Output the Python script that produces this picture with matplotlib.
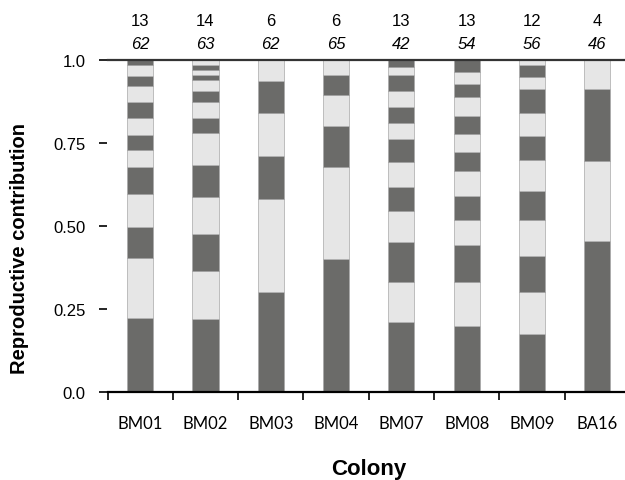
import matplotlib.pyplot as plt
import numpy as np

# colonies and the share of each patriline (bottom to top)
colonies = ['BM01', 'BM02', 'BM03', 'BM04', 'BM07', 'BM08', 'BM09', 'BA16']
shares = [
    [0.224, 0.179, 0.095, 0.097, 0.082, 0.050, 0.047, 0.050, 0.049, 0.048, 0.030, 0.034, 0.015],
    [0.221, 0.143, 0.112, 0.110, 0.096, 0.097, 0.046, 0.049, 0.031, 0.033, 0.017, 0.014, 0.014, 0.017],
    [0.303, 0.277, 0.129, 0.130, 0.097, 0.064],
    [0.400, 0.278, 0.122, 0.095, 0.060, 0.045],
    [0.213, 0.118, 0.120, 0.095, 0.072, 0.073, 0.069, 0.049, 0.049, 0.048, 0.048, 0.024, 0.022],
    [0.200, 0.131, 0.112, 0.075, 0.072, 0.075, 0.056, 0.056, 0.055, 0.057, 0.037, 0.038, 0.036],
    [0.175, 0.128, 0.106, 0.109, 0.088, 0.091, 0.072, 0.070, 0.072, 0.037, 0.035, 0.017],
    [0.455, 0.240, 0.218, 0.087],
]
n_patrilines = [13, 14, 6, 6, 13, 13, 12, 4]
n_workers = [62, 63, 62, 65, 42, 54, 56, 46]

yticks = [0.0, 0.25, 0.5, 0.75, 1.0]
ytick_labels = ['0.0', '0.25', '0.50', '0.75', '1.0']

dark = '#6b6b69'
light = '#e6e6e6'

fig = plt.figure(figsize=(6.25, 4.81), dpi=100)
ax = fig.add_axes([0.172, 0.182, 0.836, 0.692])

x = np.arange(len(colonies))
for i, s in enumerate(shares):
    bottom = 0.0
    for j, v in enumerate(s):
        ax.bar(x[i], v, bottom=bottom, width=0.4,
               color=dark if j % 2 == 0 else light,
               edgecolor='#a8a8a8', linewidth=0.5)
        bottom += v

ax.set_xlim(-0.5, len(colonies) - 0.5)
ax.set_ylim(0, 1.0)

ax.spines['right'].set_visible(False)
ax.spines['left'].set_visible(False)
ax.spines['top'].set_linewidth(1.6)
ax.spines['top'].set_color('#333333')
ax.spines['bottom'].set_linewidth(1.6)

ax.set_yticks(yticks)
ax.set_yticklabels(ytick_labels, fontsize=12, family='Liberation Sans')
ax.tick_params(axis='y', length=6, width=1.2, pad=10)

ax.set_xticks(x)
ax.set_xticklabels(colonies, fontsize=12, family='Lato')
ax.set_xticks(np.arange(len(colonies)) - 0.5, minor=True)
ax.tick_params(axis='x', which='major', length=0, pad=16)
ax.tick_params(axis='x', which='minor', length=6, width=1.2)

for i in range(len(colonies)):
    ax.text(x[i], 1.118, str(n_patrilines[i]), ha='center', va='center',
            fontsize=12, family='Liberation Sans', clip_on=False)
    ax.text(x[i], 1.048, str(n_workers[i]), ha='center', va='center',
            fontsize=12, family='Liberation Sans', style='italic', clip_on=False)

ax.set_ylabel('Reproductive contribution', fontsize=14.5, fontweight='bold',
              family='Liberation Sans')
ax.yaxis.set_label_coords(-0.15, 0.435)
ax.set_xlabel('Colony', fontsize=16, fontweight='bold',
              family='Liberation Sans')
ax.xaxis.set_label_coords(0.5, -0.198)

fig.savefig('out.png', dpi=100)
